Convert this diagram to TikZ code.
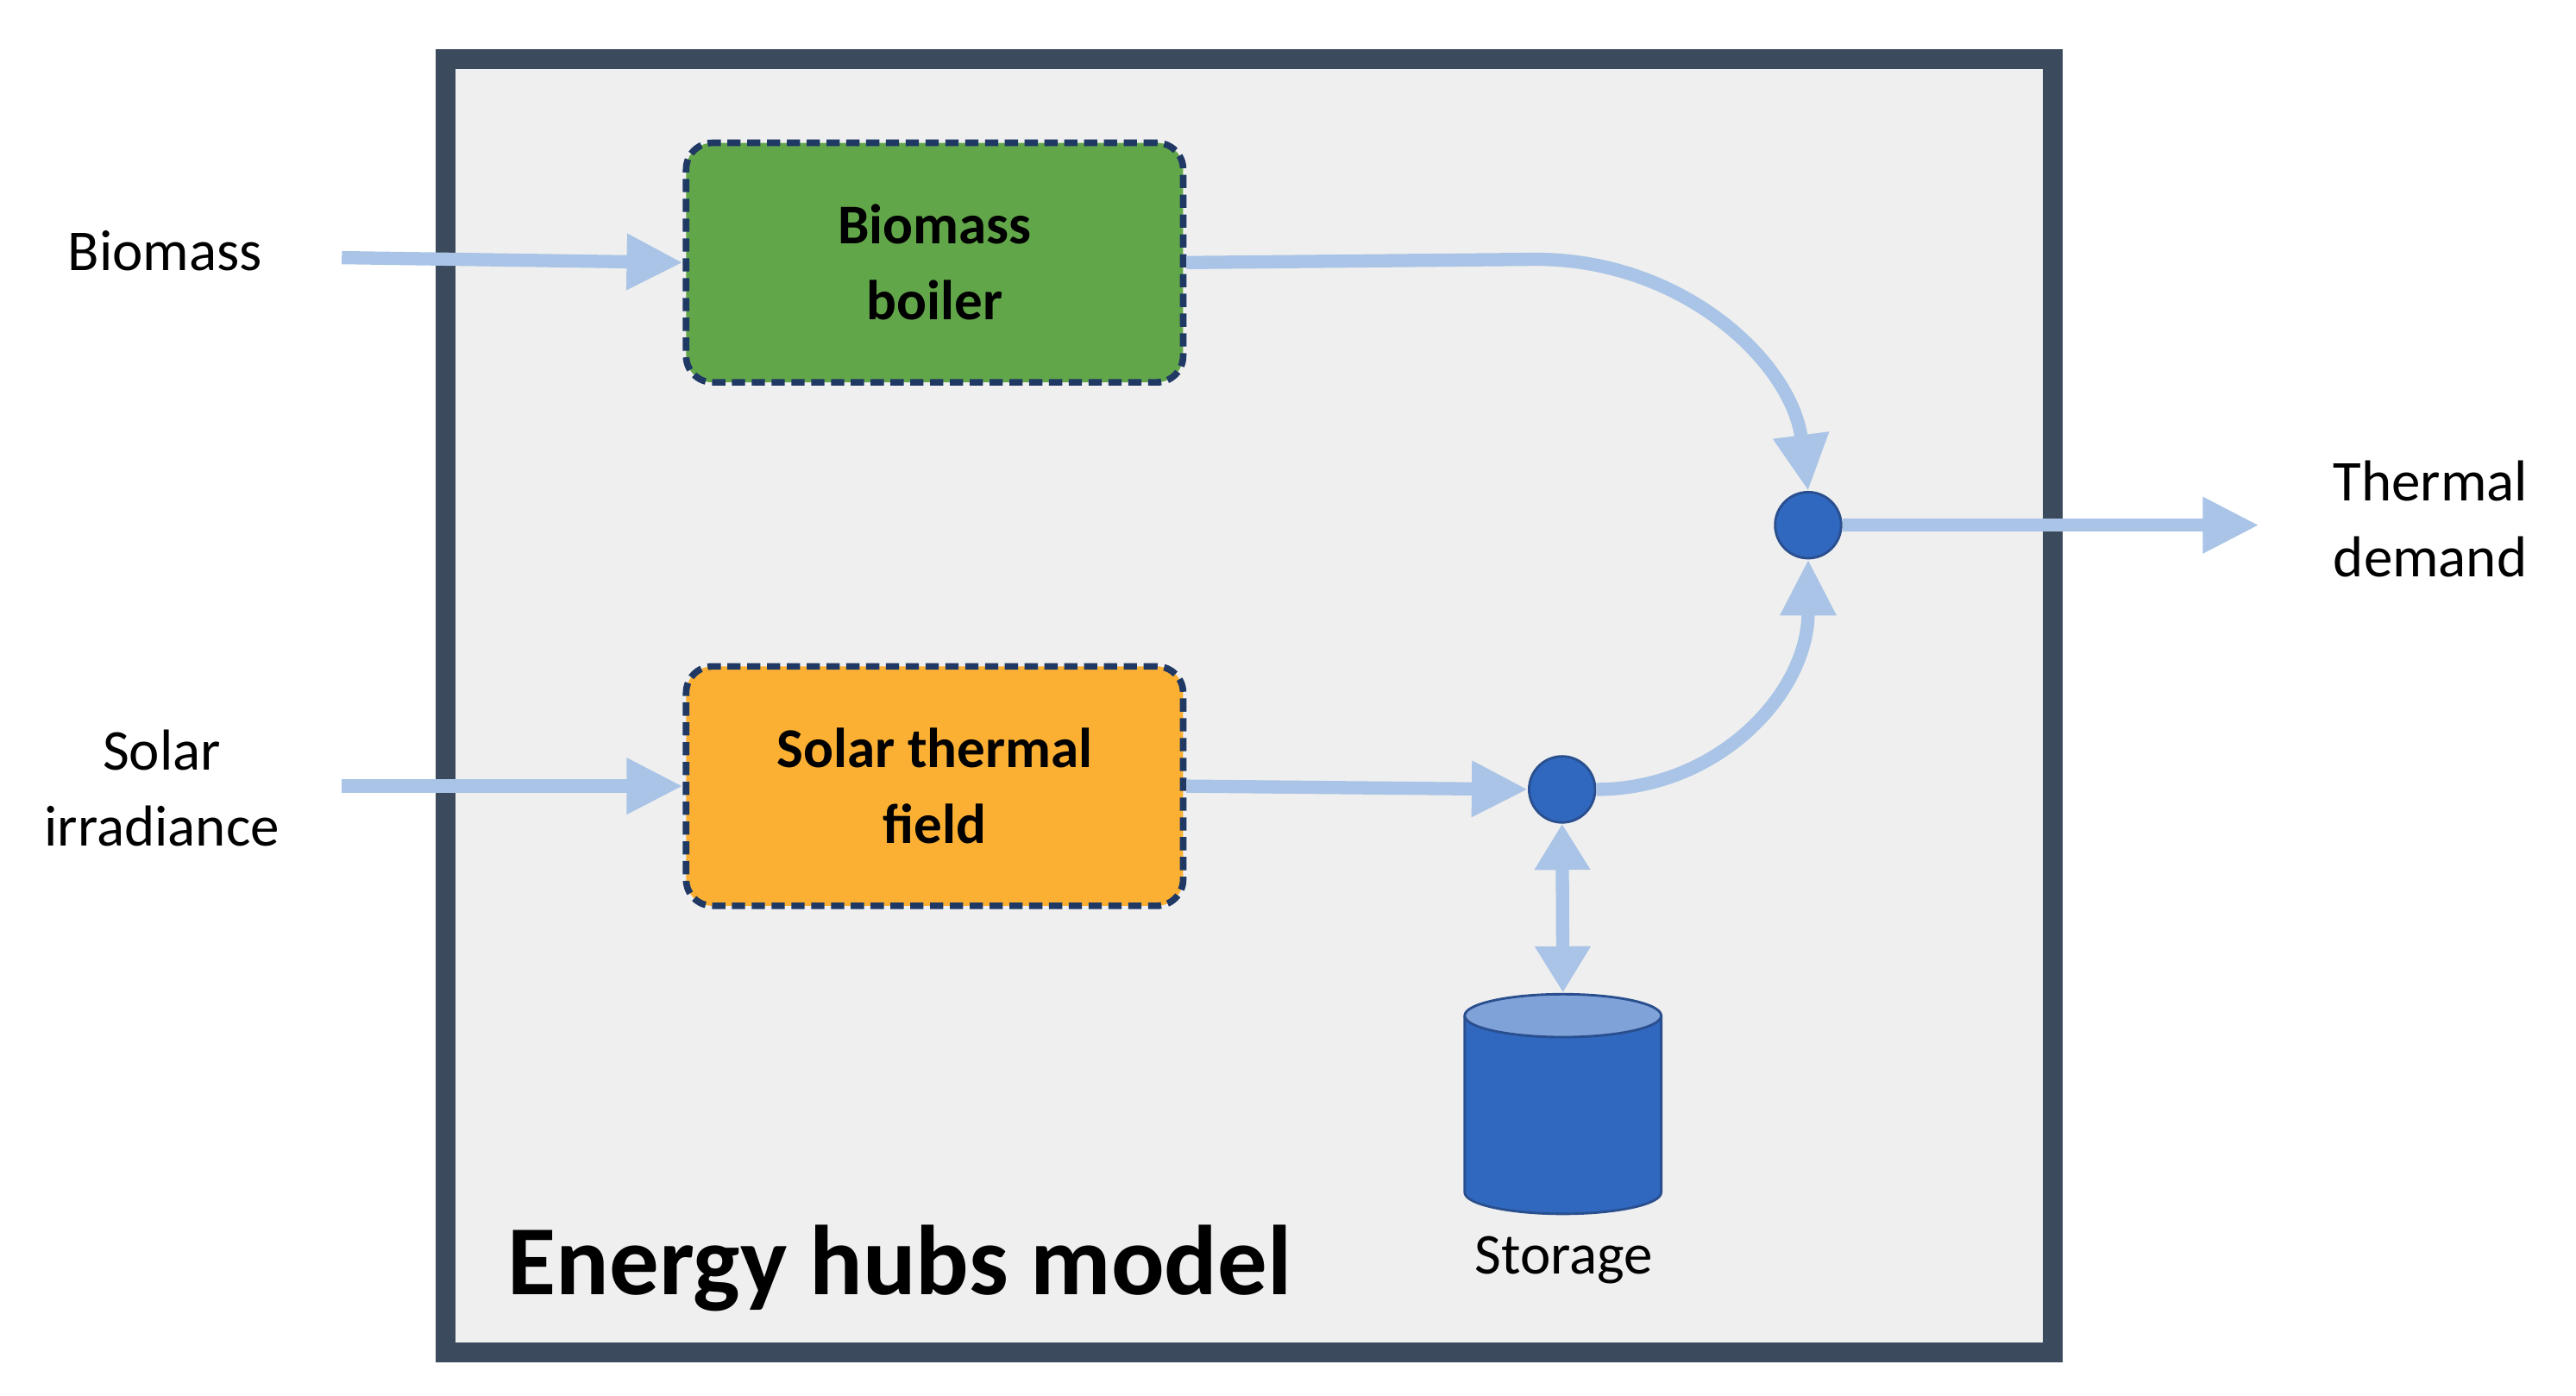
\documentclass[tikz,border=0pt]{standalone}
\usepackage{fontspec}
\setmainfont{Carlito}
\usetikzlibrary{arrows.meta}
\definecolor{frame}{HTML}{3B4A5C}
\definecolor{bg}{HTML}{EFEFEF}
\definecolor{grn}{HTML}{62A64A}
\definecolor{org}{HTML}{FBB034}
\definecolor{dash}{HTML}{1F3864}
\definecolor{flow}{HTML}{A9C4E6}
\definecolor{node}{HTML}{3068BF}
\definecolor{nodeb}{HTML}{2A4F8F}
\definecolor{ltop}{HTML}{7FA3D9}
\tikzset{
 unit/.style={draw=dash,line width=4pt,dash pattern=on 8pt off 4pt,rounded corners=16pt,minimum width=301pt,minimum height=145pt,align=center,font=\fontsize{34}{46}\selectfont\bfseries},
 junc/.style={circle,fill=node,draw=nodeb,line width=1.5pt,minimum size=40pt,inner sep=0pt},
 flw/.style={draw=flow,line width=8pt,-{Triangle[length=34pt,width=32pt]}},
 lbl/.style={font=\fontsize{35}{46}\selectfont,align=center}
}
\begin{document}
\begin{tikzpicture}[x=1pt,y=-1pt]
\useasboundingbox (0,0) rectangle (1560,845);
\draw[frame,line width=12pt,fill=bg] (270,36) rectangle (1243,819);
\node[unit,fill=grn] (bb) at (566,159) {Biomass\\boiler};
\node[unit,fill=org] (st) at (566,476) {Solar thermal\\field};
\node[junc] (j1) at (1095,318) {};
\node[junc] (j2) at (946,478) {};
\node[lbl] (bio) at (100,152) {Biomass};
\node[lbl] (sol) at (98,477) {Solar\\irradiance};
\node[lbl,align=left] (td) at (1472,314) {Thermal\\demand};
\node[lbl] (stl) at (947,763) {Storage};
\node[font=\fontsize{60}{64}\selectfont\bfseries] (title) at (545,768) {Energy hubs model};
% storage cylinder
\fill[node] (887,615) -- (887,722) arc[start angle=180,end angle=0,x radius=59.5,y radius=13] -- (1006,615) -- cycle;
\draw[nodeb,line width=1.5pt] (887,615) -- (887,722) arc[start angle=180,end angle=0,x radius=59.5,y radius=13] -- (1006,615);
\draw[nodeb,line width=1.5pt,fill=ltop] (946.5,615) ellipse[x radius=59.5,y radius=13];
\coordinate (stor) at (946.5,601);
% flows
\draw[flw] (207,156) -- (bb.west);
\draw[flw] (207,476) -- (st.west);
\draw[flw] (bb.east) -- (930,157) .. controls (1020,157) and (1085,220) .. (j1.north);
\draw[flw] (st.east) -- (j2.west);
\draw[flw] (j2.east) .. controls (1040,478) and (1095,420) .. (j1.south);
\draw[flw] (j1.east) -- (1368,318);
\draw[draw=flow,line width=8pt,{Triangle[length=28pt,width=32pt]}-{Triangle[length=28pt,width=32pt]}] (j2.south) -- (stor);
\end{tikzpicture}
\end{document}
